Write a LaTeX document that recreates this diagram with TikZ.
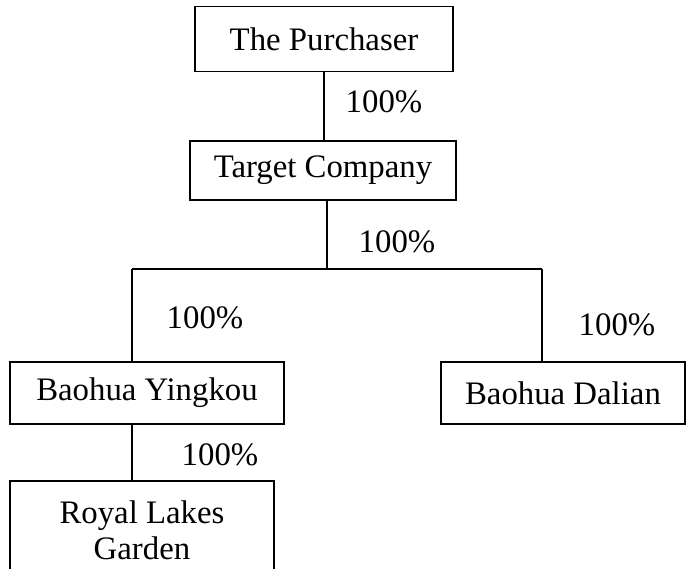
\documentclass[tikz,border=0pt]{standalone}
\usepackage{fontspec}
\setmainfont{Liberation Serif}
\begin{document}
\begin{tikzpicture}[x=1pt,y=-1pt,
  box/.style={draw,line width=1.3pt,inner sep=0pt,font=\fontsize{32.8}{36}\selectfont,align=center},
  conn/.style={line width=1.1pt},
  pct/.style={font=\fontsize{32.8}{36}\selectfont,inner sep=0pt}]
\path[use as bounding box] (0,0) rectangle (686,569);
\clip (0,0) rectangle (686,569);
\node[box,minimum width=258pt,minimum height=65pt] (purch) at (324,39) {The Purchaser};
\node[box,minimum width=266pt,minimum height=59pt] (target) at (323,170.5) {Target Company};
\node[box,minimum width=274pt,minimum height=62pt] (ying) at (147,393) {Baohua Yingkou};
\node[box,minimum width=244pt,minimum height=62pt] (dalian) at (563,393) {Baohua Dalian};
\node[box,minimum width=264pt,minimum height=98pt] (royal) at (142,530) {Royal Lakes\\Garden};
\coordinate (hl) at (132,269);
\coordinate (hr) at (542,269);
\coordinate (hm) at (327,269);
\draw[conn] (purch.south) -- (purch.south |- target.north);
\draw[conn] (target.south -| hm) -- (hm);
\draw[conn] (hl) -- (hr);
\draw[conn] (hl) -- (hl |- ying.north);
\draw[conn] (hr) -- (hr |- dalian.north);
\draw[conn] (ying.south -| hl) -- (hl |- royal.north);
\node[pct] (p1) at (384,102) {100\%};
\node[pct] (p2) at (397,242) {100\%};
\node[pct] (p3) at (205,318) {100\%};
\node[pct] (p4) at (617,325) {100\%};
\node[pct] (p5) at (220,455) {100\%};
\end{tikzpicture}
\end{document}
